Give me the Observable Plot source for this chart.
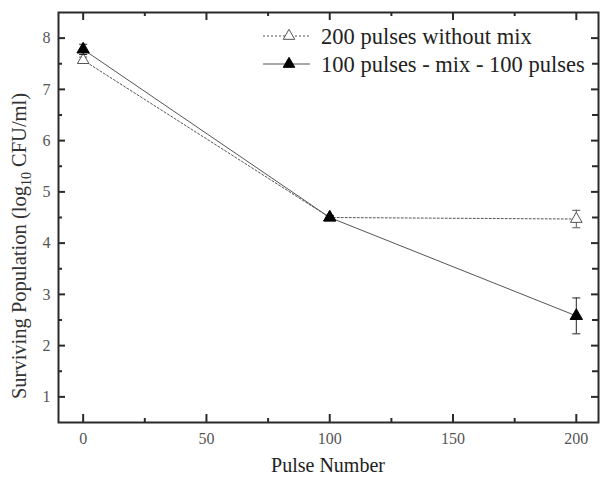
<!DOCTYPE html>
<html><head><meta charset="utf-8">
<script src="https://cdn.jsdelivr.net/npm/d3@7"></script>
<script src="https://cdn.jsdelivr.net/npm/@observablehq/plot@0.6"></script>
<style>body{margin:0;background:#fff}#chart{position:relative;width:600px;height:481px}</style>
</head><body><div id="chart"></div>
<script>
const pulses = [0, 100, 200];
const withoutMix = [7.57, 4.5, 4.47];
const withoutMixErr = [0.06, 0.04, 0.17];
const withMix = [7.78, 4.5, 2.58];
const withMixErr = [0.1, 0.04, 0.35];
const seriesNames = ["200 pulses without mix", "100 pulses - mix - 100 pulses"];
const xTicks = [0, 50, 100, 150, 200];
const xMinor = [25, 75, 125, 175];
const yTicks = [1, 2, 3, 4, 5, 6, 7, 8];
const yMinor = [1.5, 2.5, 3.5, 4.5, 5.5, 6.5, 7.5];
const xLabel = "Pulse Number";

const s1 = pulses.map((p, i) => ({x: p, y: withoutMix[i], e: withoutMixErr[i]}));
const s2 = pulses.map((p, i) => ({x: p, y: withMix[i], e: withMixErr[i]}));

const cap = {draw(ctx) { ctx.moveTo(-4, 0); ctx.lineTo(4, 0); }};
const lineCol = "#555";
const axisCol = "#2a2a2a";
const font = "'Liberation Serif', 'DejaVu Serif', serif";
const W = 600, H = 481, mL = 58, mR = 2, mT = 12, mB = 59;
const iW = W - mL - mR, iH = H - mT - mB;

function errMarks(data, col) {
  return [
    Plot.ruleX(data, {x: "x", y1: d => d.y - d.e, y2: d => d.y + d.e, stroke: col, strokeWidth: 1}),
    Plot.dot(data, {x: "x", y: d => d.y - d.e, symbol: cap, stroke: col, strokeWidth: 1, r: 3}),
    Plot.dot(data, {x: "x", y: d => d.y + d.e, symbol: cap, stroke: col, strokeWidth: 1, r: 3})
  ];
}
const tk = {stroke: axisCol, strokeWidth: 2};

const plot = Plot.plot({
  width: W, height: H,
  marginLeft: mL, marginRight: mR, marginTop: mT, marginBottom: mB,
  style: {fontFamily: font, background: "#fff", overflow: "visible"},
  x: {domain: [-10, 209], label: null},
  y: {domain: [0.5, 8.5], label: null},
  marks: [
    Plot.line(s1, {x: "x", y: "y", stroke: lineCol, strokeWidth: 1, strokeDasharray: "2,2"}),
    ...errMarks(s1, "#555"),
    Plot.dot(s1, {x: "x", y: "y", symbol: "triangle", r: 4.3, fill: "#fff", stroke: "#555", strokeWidth: 1}),
    Plot.line(s2, {x: "x", y: "y", stroke: lineCol, strokeWidth: 1}),
    ...errMarks(s2, "#222"),
    Plot.dot(s2, {x: "x", y: "y", symbol: "triangle", r: 4.6, fill: "#000", stroke: "#000", strokeWidth: 1}),
    Plot.axisX({ticks: xTicks, anchor: "bottom", tickSize: 0, tickPadding: 10, fill: "#555", fontSize: 16, tickFormat: d => d}),
    Plot.axisY({ticks: yTicks, anchor: "left", tickSize: 0, tickPadding: 8, fill: "#555", fontSize: 16, tickFormat: d => d}),
    Plot.tickX(xTicks, {x: d => d, insetTop: iH - 8, ...tk}),
    Plot.tickX(xMinor, {x: d => d, insetTop: iH - 4, ...tk}),
    Plot.tickX(xTicks, {x: d => d, insetBottom: iH - 8, ...tk}),
    Plot.tickX(xMinor, {x: d => d, insetBottom: iH - 4, ...tk}),
    Plot.tickY(yTicks, {y: d => d, insetRight: iW - 7, ...tk}),
    Plot.tickY(yMinor, {y: d => d, insetRight: iW - 4, ...tk}),
    Plot.tickY(yTicks, {y: d => d, insetLeft: iW - 7, ...tk}),
    Plot.tickY(yMinor, {y: d => d, insetLeft: iW - 6, ...tk}),
    Plot.frame({stroke: axisCol, strokeWidth: 2})
  ]
});
document.getElementById("chart").appendChild(plot);

const svg = d3.select(plot);
svg.append("text").attr("x", 328).attr("y", 472)
  .style("text-anchor", "middle").style("font-family", font).style("font-size", "20px").style("fill", "#222").text(xLabel);
const yl = svg.append("text").attr("transform", "translate(26,246) rotate(-90)")
  .style("text-anchor", "middle").style("font-family", font).style("font-size", "20.5px").style("fill", "#333");
yl.append("tspan").text("Surviving Population (log");
yl.append("tspan").style("font-size", "14px").attr("dy", 5).text("10");
yl.append("tspan").attr("dy", -5).text(" CFU/ml)");

const lg = svg.append("g").style("font-family", font).style("font-size", "22.5px");
const items = [
  {name: seriesNames[0], dash: "2,2", fill: "#fff", stroke: "#555", y: 36},
  {name: seriesNames[1], dash: null, fill: "#000", stroke: "#000", y: 64}
];
items.forEach(it => {
  lg.append("line").attr("x1", 263).attr("x2", 310).attr("y1", it.y).attr("y2", it.y)
    .style("stroke", lineCol).style("stroke-width", 1).style("stroke-dasharray", it.dash);
  lg.append("path").attr("d", d3.symbol(d3.symbolTriangle, 58)()).attr("transform", `translate(289,${it.y})`)
    .style("fill", it.fill).style("stroke", it.stroke);
  lg.append("text").attr("x", 321).attr("y", it.y + 8).style("text-anchor", "start").style("fill", "#222").text(it.name);
});
</script></body></html>
